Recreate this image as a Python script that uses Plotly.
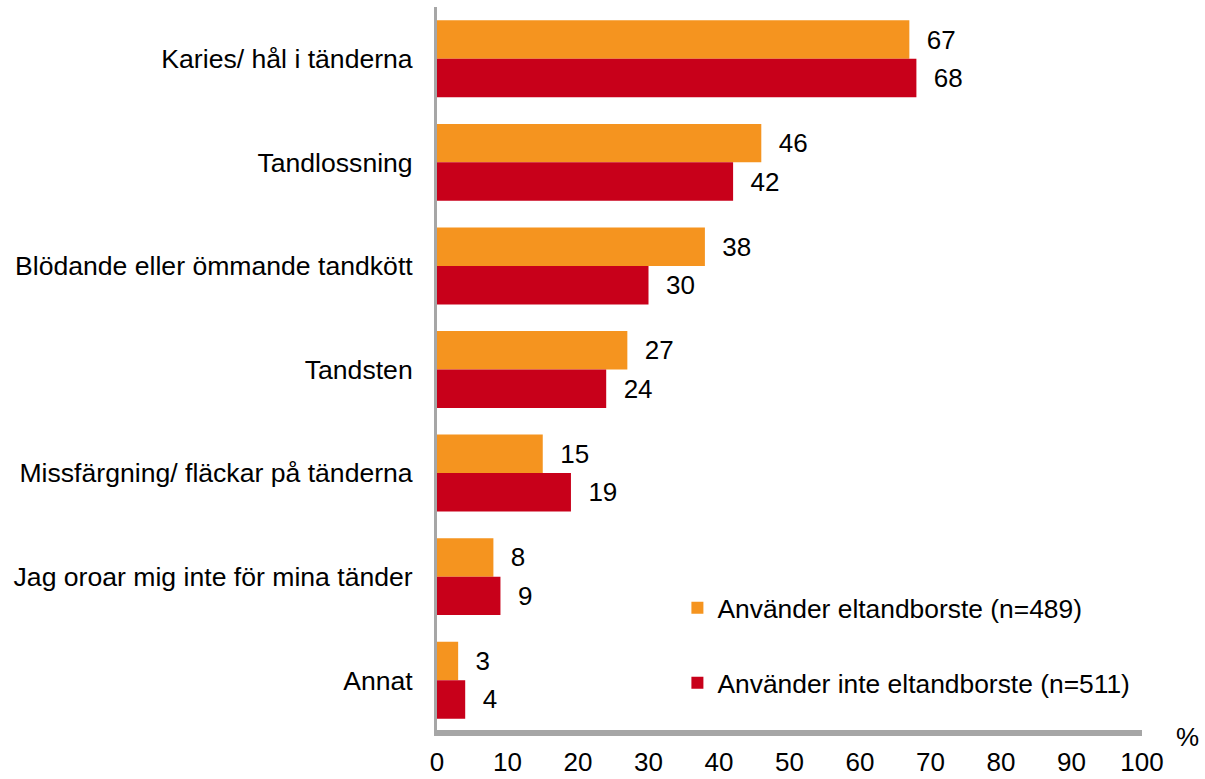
import plotly.graph_objects as go

categories = [
    "Karies/ hål i tänderna",
    "Tandlossning",
    "Blödande eller ömmande tandkött",
    "Tandsten",
    "Missfärgning/ fläckar på tänderna",
    "Jag oroar mig inte för mina tänder",
    "Annat",
]
series_names = ["Använder eltandborste (n=489)", "Använder inte eltandborste (n=511)"]
values_el = [67, 46, 38, 27, 15, 8, 3]
values_inte = [68, 42, 30, 24, 19, 9, 4]
tick_values = [0, 10, 20, 30, 40, 50, 60, 70, 80, 90, 100]

FONT = "Arial, Liberation Sans, sans-serif"
FS = 26
AXIS_COLOR = "#A6A6A6"

fig = go.Figure()
fig.add_trace(go.Bar(
    y=categories, x=values_el, orientation="h", name=series_names[0],
    marker=dict(color="#F5941F", line=dict(width=0)),
    text=values_el, texttemplate="\u00a0\u00a0%{x}", textposition="outside",
    textfont=dict(family=FONT, size=FS, color="#000000"),
    cliponaxis=False, legend="legend", showlegend=True,
))
fig.add_trace(go.Bar(
    y=categories, x=values_inte, orientation="h", name=series_names[1],
    marker=dict(color="#C8001A", line=dict(width=0)),
    text=values_inte, texttemplate="\u00a0\u00a0%{x}", textposition="outside",
    textfont=dict(family=FONT, size=FS, color="#000000"),
    cliponaxis=False, legend="legend2", showlegend=True,
))

fig.update_layout(
    width=1205, height=779,
    margin=dict(l=437, r=63, t=7, b=47),
    paper_bgcolor="white", plot_bgcolor="white",
    barmode="group", bargap=0.257, bargroupgap=0,
    font=dict(family=FONT, size=FS, color="#000000"),
    legend=dict(x=0.341, y=0.171, xanchor="left", yanchor="middle",
                font=dict(family=FONT, size=26.4, color="#000000"),
                bgcolor="rgba(0,0,0,0)", itemclick=False, visible=True),
    legend2=dict(x=0.341, y=0.0676, xanchor="left", yanchor="middle",
                 font=dict(family=FONT, size=26.4, color="#000000"),
                 bgcolor="rgba(0,0,0,0)", itemclick=False, visible=True),
    xaxis=dict(
        range=[0, 100], tickvals=tick_values, showgrid=False, zeroline=False,
        showline=True, linecolor=AXIS_COLOR, linewidth=4,
        ticks="", ticklabelstandoff=4, automargin=False,
        tickfont=dict(family=FONT, size=FS, color="#000000"),
    ),
    yaxis=dict(
        autorange="reversed", showgrid=False, zeroline=False,
        showline=True, linecolor=AXIS_COLOR, linewidth=3,
        ticks="", ticklabelstandoff=16, automargin=False,
        tickfont=dict(family=FONT, size=26.6, color="#000000"),
    ),
    shapes=[dict(
        type="line", xref="paper", yref="paper", x0=-0.003, x1=1, y0=0, y1=0,
        line=dict(color=AXIS_COLOR, width=4), layer="above",
    )],
    annotations=[dict(
        text="%", xref="paper", yref="paper", x=1.064, y=-0.007,
        xanchor="center", yanchor="middle", showarrow=False,
        font=dict(family=FONT, size=FS, color="#000000"),
    )],
)

fig.write_html("out.html", post_script="document.body.style.margin='0';",
               config={"displayModeBar": False})
